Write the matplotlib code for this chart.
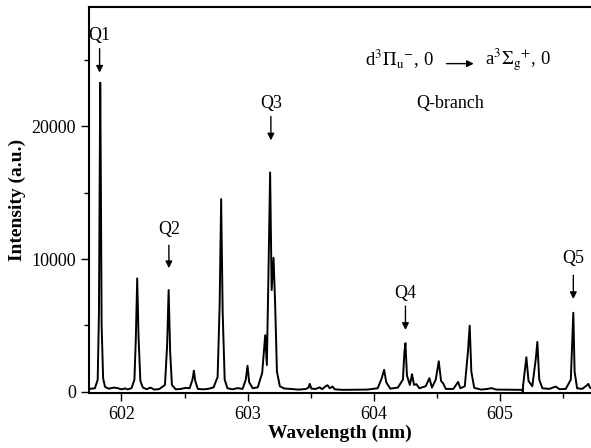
import matplotlib
matplotlib.use('Agg')
import matplotlib.pyplot as plt
from matplotlib.ticker import MultipleLocator

plt.rcParams['font.family'] = ['Liberation Serif', 'DejaVu Serif']
plt.rcParams['mathtext.fontset'] = 'stix'

# spectrum (wavelength in nm, intensity in a.u.)
wl = [601.745, 601.79, 601.812, 601.822, 601.828, 601.832, 601.837, 601.843, 601.855,
      601.87, 601.9, 601.94, 601.97, 602.0, 602.03, 602.05, 602.08, 602.103,
      602.114, 602.125, 602.136, 602.15, 602.17, 602.2, 602.23, 602.26, 602.3,
      602.345, 602.362, 602.374, 602.386, 602.4, 602.43, 602.47, 602.51, 602.54,
      602.563, 602.574, 602.585, 602.605, 602.65, 602.69, 602.73, 602.762,
      602.778, 602.79, 602.802, 602.818, 602.84, 602.88, 602.92, 602.96, 602.985,
      602.999, 603.012, 603.04, 603.08, 603.115, 603.139, 603.152, 603.165,
      603.178, 603.19, 603.205, 603.218, 603.232, 603.255, 603.29, 603.34, 603.4,
      603.46, 603.482, 603.492, 603.505, 603.54, 603.57, 603.59, 603.62, 603.633,
      603.65, 603.672, 603.69, 603.75, 603.85, 603.95, 604.03, 604.062, 604.081,
      604.098, 604.13, 604.19, 604.23, 604.242, 604.25, 604.262, 604.285, 604.302,
      604.318, 604.337, 604.36, 604.41, 604.44, 604.46, 604.49, 604.514, 604.532,
      604.548, 604.57, 604.63, 604.667, 604.685, 604.72, 604.745, 604.759,
      604.772, 604.795, 604.85, 604.9, 604.931, 604.97, 605.05, 605.12, 605.179,
      605.18, 605.182, 605.196, 605.208, 605.225, 605.255, 605.283, 605.295,
      605.31, 605.335, 605.39, 605.44, 605.47, 605.52, 605.56, 605.572, 605.58,
      605.59, 605.61, 605.65, 605.685, 605.699, 605.712, 605.72]
inten = [200, 250, 900, 6000, 16000, 23300, 16000, 5000, 1000,
         350, 220, 300, 260, 170, 240, 160, 260, 900,
         4000, 8540, 4000, 800, 300, 180, 300, 150, 190,
         500, 3500, 7660, 3000, 500, 170, 200, 280, 250,
         900, 1580, 800, 200, 170, 210, 320, 1100,
         6500, 14520, 6000, 900, 250, 170, 260, 200, 900,
         1940, 700, 250, 320, 1400, 4250, 2000, 9000,
         16530, 7660, 10100, 6500, 1500, 400, 230, 200, 150,
         190, 300, 580, 220, 200, 320, 180, 420, 480,
         250, 380, 170, 130, 140, 150, 250, 1000, 1640,
         700, 220, 300, 900, 3000, 3650, 1200, 500, 1310,
         500, 560, 250, 400, 1010, 300, 900, 2290, 800,
         630, 200, 200, 730, 250, 400, 3000, 4970,
         1500, 280, 150, 200, 260, 150, 140, 130, 130,
         -120, 450, 1600, 2590, 800, 400, 2500, 3750,
         900, 250, 200, 380, 180, 200, 900, 4000, 5950,
         1500, 250, 200, 450, 580, 300, 250]

# peak labels: name, wavelength, text height, arrow start, arrow end
labels = ['Q1', 'Q2', 'Q3', 'Q4', 'Q5']
label_wl = [601.827, 602.376, 603.184, 604.25, 605.58]
label_y = [26900, 12250, 21700, 7390, 10030]
arrow_top = [25870, 11040, 20750, 6450, 8780]
arrow_bot = [24060, 9310, 18950, 4650, 6980]

fig = plt.figure(figsize=(5.91, 4.48), dpi=100)
ax = fig.add_axes([0.151, 0.123, 0.849, 0.861])

ax.plot(wl, inten, color='black', lw=1.4)

for name, x, ty, a0, a1 in zip(labels, label_wl, label_y, arrow_top, arrow_bot):
    ax.text(x, ty, name, ha='center', va='center', fontsize=13)
    ax.annotate('', xy=(x, a1), xytext=(x, a0),
                arrowprops=dict(arrowstyle='-|>', color='black', lw=1.0,
                                mutation_scale=10, shrinkA=0, shrinkB=0))

ax.text(604.474, 24590, r'd$^{3}\Pi_{\mathrm{u}}{}^{-}$, 0', ha='right',
        va='baseline', fontsize=13.5)
ax.annotate('', xy=(604.791, 24740), xytext=(604.575, 24740),
            arrowprops=dict(arrowstyle='-|>', color='black', lw=1.0,
                            mutation_scale=10, shrinkA=0, shrinkB=0))
ax.text(604.878, 24590, r'a$^{3}\Sigma_{\mathrm{g}}{}^{+}$, 0', ha='left',
        va='baseline', fontsize=13.5)
ax.text(604.606, 21730, 'Q-branch', ha='center', va='center', fontsize=13)

ax.set_xlim(601.745, 605.72)
ax.set_ylim(-100, 29000)
ax.xaxis.set_major_locator(MultipleLocator(1))
ax.xaxis.set_minor_locator(MultipleLocator(0.5))
ax.yaxis.set_major_locator(MultipleLocator(10000))
ax.yaxis.set_minor_locator(MultipleLocator(5000))
ax.tick_params(which='major', direction='out', length=6, width=1, labelsize=13)
ax.tick_params(which='minor', direction='out', length=3.5, width=1)
for s in ['left', 'bottom', 'top']:
    ax.spines[s].set_linewidth(1.5)
ax.spines['right'].set_visible(False)

ax.set_xlabel('Wavelength (nm)', fontsize=14, fontweight='bold', labelpad=1)
ax.set_ylabel('Intensity (a.u.)', fontsize=14, fontweight='bold', labelpad=4)

fig.savefig('out.png', dpi=100)
